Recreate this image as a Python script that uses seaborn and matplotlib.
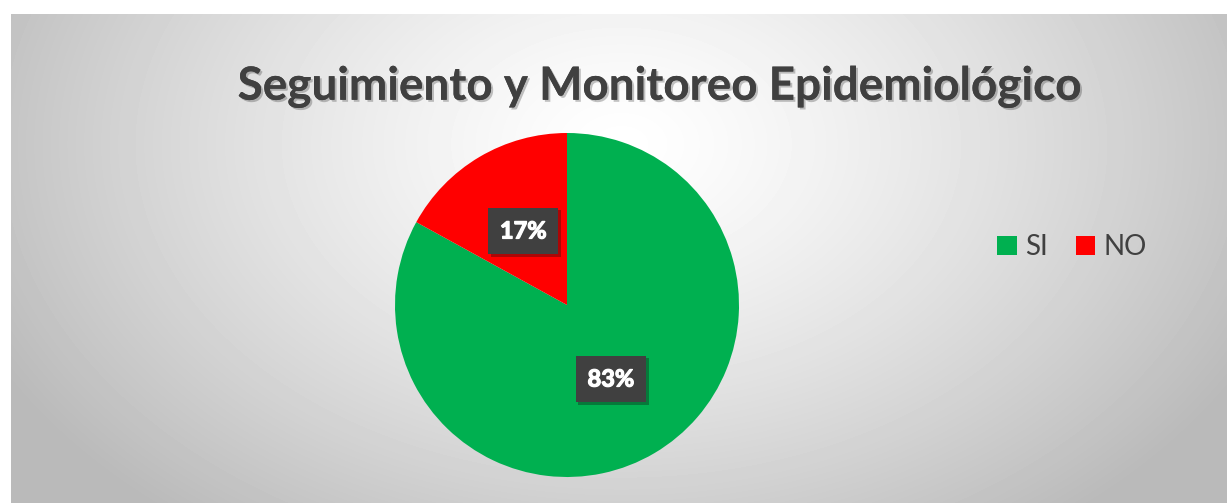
import numpy as np
import matplotlib
matplotlib.use("Agg")
import matplotlib.pyplot as plt
import matplotlib.patheffects as pe
from matplotlib.patches import Patch
import seaborn as sns

# Survey answers
categories = ["SI", "NO"]
shares = [83, 17]
colors = ["#00b050", "#ff0000"]
title = "Seguimiento y Monitoreo Epidemiológico"

sns.set_theme(style="white")
plt.rcParams["font.family"] = ["Lato", "DejaVu Sans"]

W, H = 1227, 503
fig = plt.figure(figsize=(W / 100, H / 100), dpi=100)
fig.patch.set_facecolor("white")

# Radial grey background of the chart area
bg = fig.add_axes([11 / W, 0, 1 - 11 / W, 1 - 14 / H])
bg.set_axis_off()
yy, xx = np.mgrid[0:489, 0:1216]
d = np.sqrt(((xx - 610) / 700) ** 2 + ((yy - 130) / 480) ** 2)
shade = 1 - 0.27 * np.clip(d, 0, 1) ** 1.3
bg.imshow(shade, cmap="gray", vmin=0, vmax=1, aspect="auto",
          extent=[0, 1, 0, 1], origin="upper", interpolation="bilinear")
bg.set_xlim(0, 1)
bg.set_ylim(0, 1)

fig.text(660 / W, 1 - 87 / H, title, ha="center", va="center",
         fontsize=33, fontweight="bold", color="#404040",
         path_effects=[pe.withSimplePatchShadow(offset=(1.5, -1.5), alpha=0.25),
                       pe.Normal()])

# Pie
cx, cy, r = 567, 305, 172
ax = fig.add_axes([(cx - r) / W, (H - cy - r) / H, 2 * r / W, 2 * r / H])
wedges, _, autotexts = ax.pie(
    shares, colors=colors, startangle=90, counterclock=False,
    autopct=lambda p: f"{p:.0f}%", pctdistance=0.5,
    wedgeprops=dict(linewidth=0))
for t in autotexts:
    t.set_color("white")
    t.set_fontsize(17)
    t.set_fontweight("bold")
    t.set_path_effects([pe.withStroke(linewidth=0.9, foreground="white")])
    t.set_bbox(dict(boxstyle="square,pad=0.5", facecolor="#404040",
                    edgecolor="none"))
    t.get_bbox_patch().set_path_effects(
        [pe.withSimplePatchShadow(offset=(2, -2), alpha=0.35), pe.Normal()])
ax.set_xlim(-1, 1)
ax.set_ylim(-1, 1)
ax.set_aspect("equal")
ax.set_axis_off()

handles = [Patch(facecolor=c, edgecolor="none", label=l)
           for c, l in zip(colors, categories)]
fig.legend(handles=handles, loc="center", bbox_to_anchor=(1072 / W, 1 - 247 / H),
           ncol=2, frameon=False, fontsize=20, handlelength=0.7,
           handleheight=0.7, handletextpad=0.3, columnspacing=1.0,
           labelcolor="#404040")

fig.savefig("out.png", dpi=100)
